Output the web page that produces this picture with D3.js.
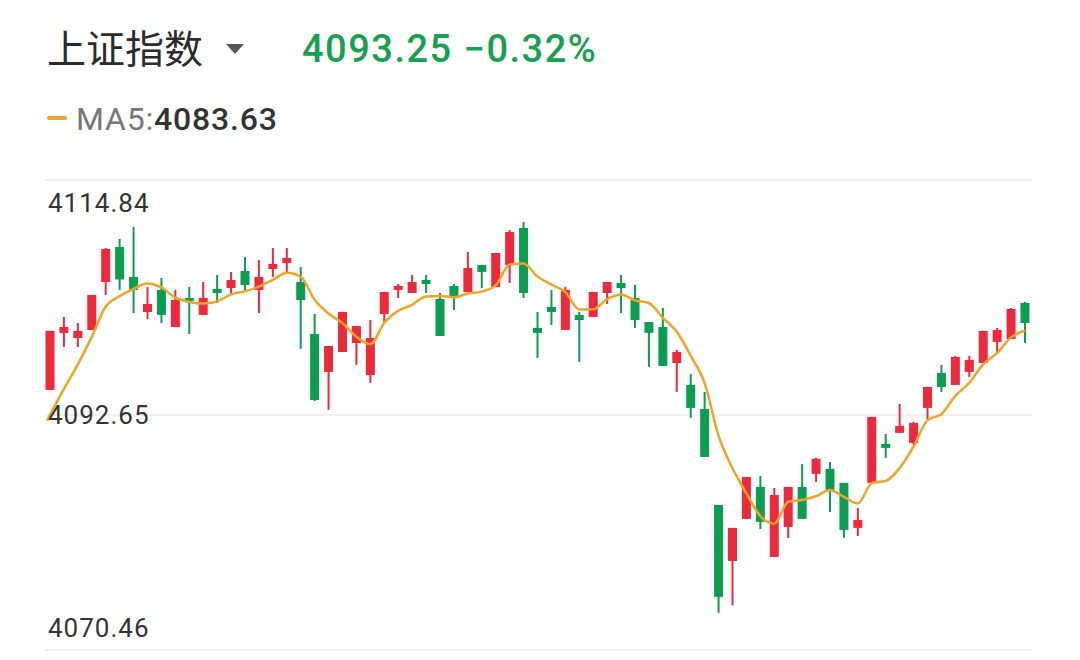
<!DOCTYPE html>
<html><head><meta charset="utf-8">
<script src="https://cdn.jsdelivr.net/npm/d3@7"></script>
<style>body{margin:0;background:#fff}svg{display:block}</style>
</head><body><svg id="c" width="1080" height="660"></svg>
<script>
const title = "上证指数";
const lastPrice = "4093.25 −0.32%";
const maLabel = "MA5:", maValue = "4083.63";
const yTicks = [4114.84, 4092.65, 4070.46];
const prevCloses = [4086, 4089, 4091, 4094];
const opens  = [4095.02,4100.40,4099.92,4100.68,4105.21,4108.52,4105.68,4102.38,4104.46,4100.96,4103.70,4102.10,4104.55,4104.64,4106.25,4104.46,4106.44,4107.00,4105.21,4100.30,4096.72,4098.60,4099.45,4096.43,4102.19,4104.46,4104.17,4105.40,4103.61,4104.83,4104.27,4106.82,4104.74,4106.82,4110.31,4100.87,4102.85,4100.68,4102.10,4101.91,4104.17,4105.12,4103.70,4101.43,4100.96,4097.56,4095.49,4093.22,4084.16,4078.87,4082.84,4085.86,4079.25,4082.08,4085.86,4087.09,4087.56,4086.24,4081.99,4086.24,4089.92,4090.96,4090.01,4093.32,4096.62,4095.49,4096.72,4097.56,4099.55,4099.83,4103.23];
const closes = [4100.59,4100.96,4100.59,4103.98,4108.33,4105.45,4104.46,4103.13,4102.10,4103.51,4103.42,4103.70,4104.17,4105.40,4104.93,4105.68,4106.91,4107.48,4103.51,4094.07,4099.17,4102.38,4101.06,4099.92,4104.27,4104.83,4105.21,4105.02,4100.11,4103.70,4106.53,4106.16,4107.95,4109.93,4104.17,4100.40,4102.38,4104.46,4101.62,4104.27,4105.21,4104.64,4101.62,4100.40,4097.28,4098.60,4093.32,4088.69,4075.48,4081.99,4086.80,4082.56,4085.10,4085.86,4082.84,4088.51,4085.58,4081.80,4082.74,4092.47,4089.54,4091.62,4091.90,4095.30,4095.30,4098.13,4097.85,4100.59,4100.68,4102.66,4101.34];
const highs  = [4100.59,4101.91,4101.34,4103.98,4108.42,4109.27,4110.40,4104.74,4105.59,4104.46,4104.74,4105.21,4105.87,4106.16,4107.57,4107.29,4108.42,4108.42,4106.63,4102.19,4099.17,4102.38,4101.06,4101.62,4104.27,4105.02,4105.87,4105.87,4104.17,4105.02,4108.04,4106.82,4107.95,4110.12,4110.88,4102.38,4104.46,4104.74,4102.38,4104.27,4105.21,4105.87,4104.93,4101.43,4102.76,4098.79,4096.53,4094.83,4084.16,4081.99,4086.80,4086.90,4085.76,4085.86,4088.03,4088.60,4088.22,4086.24,4083.88,4092.47,4090.86,4093.69,4092.00,4095.30,4097.38,4098.23,4098.23,4100.59,4100.87,4102.76,4103.32];
const lows   = [4095.02,4099.08,4099.08,4100.68,4103.98,4104.46,4102.28,4101.72,4101.34,4100.96,4100.30,4102.10,4103.23,4104.17,4104.36,4102.28,4105.68,4106.06,4098.89,4093.98,4093.13,4098.60,4097.38,4095.68,4101.34,4103.70,4104.17,4104.17,4100.11,4102.57,4104.27,4104.64,4104.74,4105.12,4103.70,4098.04,4101.15,4100.68,4097.66,4101.91,4103.13,4102.28,4100.87,4097.19,4097.28,4094.83,4092.37,4088.69,4073.97,4074.68,4082.84,4081.89,4079.25,4081.04,4082.84,4086.33,4083.50,4081.04,4081.23,4086.24,4088.60,4090.96,4089.82,4092.28,4094.83,4095.49,4096.24,4097.56,4098.51,4099.83,4099.45];

const svg = d3.select("#c");
const font = "'Noto Sans CJK SC','Noto Sans',sans-serif";
const num = "'Roboto','Noto Sans',sans-serif";
const UP = "#ec2a3c", DOWN = "#0b9e50", MA = "#f0a326";

svg.append("text").attr("x",47).attr("y",63).attr("font-family",font).attr("font-size",39).attr("fill","#2b2b2b").text(title);
svg.append("path").attr("d","M226,44 L244,44 L235,54 Z").attr("fill","#555");
svg.append("text").attr("x",302).attr("y",62).attr("font-family",num).attr("font-weight",500).attr("font-size",38).attr("letter-spacing",1.5).attr("fill","#16a04f").text(lastPrice);
svg.append("rect").attr("x",47).attr("y",116).attr("width",20).attr("height",4).attr("rx",2).attr("fill",MA);
const lg = svg.append("text").attr("x",76).attr("y",130).attr("font-family",num).attr("font-size",32).attr("letter-spacing",0.8);
lg.append("tspan").attr("fill","#777").text(maLabel);
lg.append("tspan").attr("fill","#333").attr("font-weight",500).text(maValue);

const x = d3.scaleLinear().domain([0, closes.length-1]).range([50, 1025]);
const y = d3.scaleLinear().domain([yTicks[2], yTicks[0]]).range([650, 180]);

svg.append("g").selectAll("line").data(yTicks).join("line")
  .attr("x1",45).attr("x2",1032).attr("y1",d=>y(d)).attr("y2",d=>y(d)).attr("stroke","#ebebeb").attr("stroke-width",1.5);

const idx = d3.range(closes.length);
const g = svg.append("g");
g.selectAll("line").data(idx).join("line")
  .attr("x1",i=>x(i)).attr("x2",i=>x(i)).attr("y1",i=>y(highs[i])).attr("y2",i=>y(lows[i]))
  .attr("stroke",i=>closes[i]>=opens[i]?UP:DOWN).attr("stroke-width",2);
g.selectAll("rect").data(idx).join("rect")
  .attr("x",i=>x(i)-4.5).attr("width",9)
  .attr("y",i=>y(Math.max(opens[i],closes[i])))
  .attr("height",i=>Math.max(2, Math.abs(y(opens[i])-y(closes[i]))))
  .attr("fill",i=>closes[i]>=opens[i]?UP:DOWN);

const all = prevCloses.concat(closes);
const ma5 = idx.map(i => d3.mean(all.slice(i, i+5)));
svg.append("path").datum(ma5)
  .attr("d", d3.line().x((d,i)=>x(i)-3*(i===0)).y(d=>y(d)).curve(d3.curveMonotoneX))
  .attr("fill","none").attr("stroke",MA).attr("stroke-width",2.5);

svg.append("g").selectAll("text").data(yTicks).join("text")
  .attr("x",48).attr("y",(d,i)=>[212,424,637][i])
  .attr("font-family",num).attr("font-size",26).attr("letter-spacing",1).attr("fill","#333")
  .text(d=>d.toFixed(2));
</script></body></html>
